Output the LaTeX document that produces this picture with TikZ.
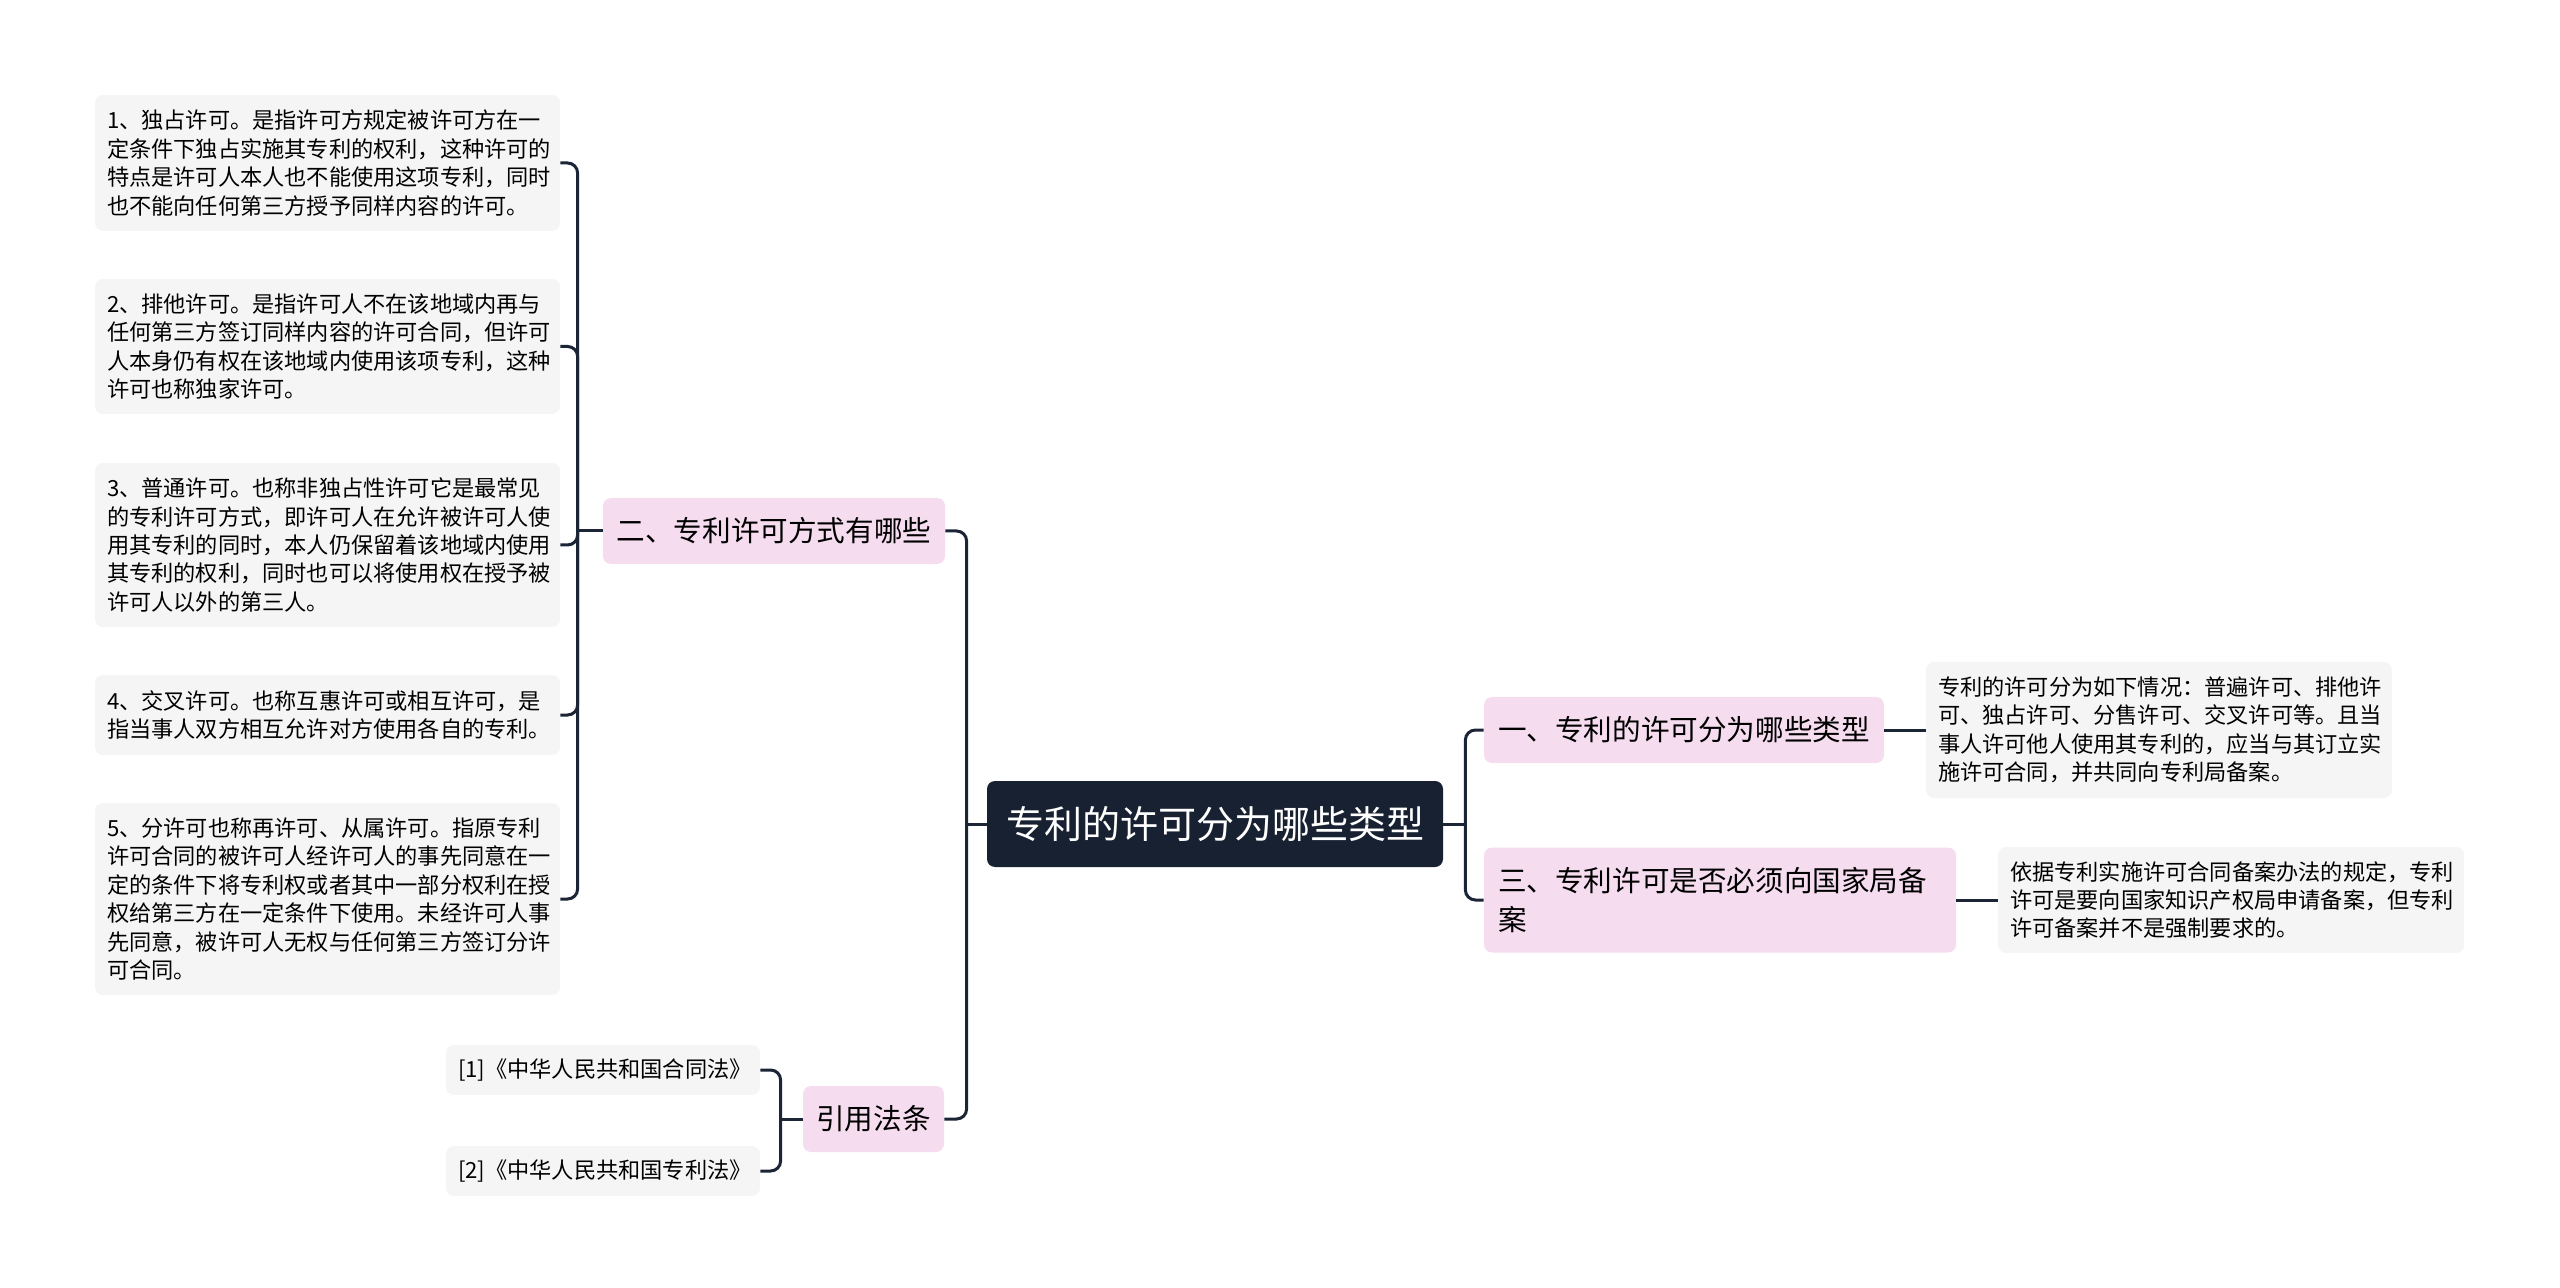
\documentclass[tikz,border=0pt]{standalone}
\usepackage{fontspec}
\newfontfamily\cjk{Noto Sans CJK SC}
\usetikzlibrary{positioning}

\definecolor{rootblue}{HTML}{172131}
\definecolor{topicpink}{HTML}{F5DCEF}
\definecolor{leafgray}{HTML}{F5F5F5}
\definecolor{linkblue}{HTML}{1B2535}

\begin{document}
\begin{tikzpicture}[x=0.5pt, y=-0.5pt,
  rootbox/.style={fill=rootblue, text=white, rounded corners=4pt, inner sep=0pt,
    font=\cjk\fontsize{19}{23}\selectfont, minimum width=228pt, minimum height=43pt},
  topicbox/.style={fill=topicpink, rounded corners=4pt, inner sep=0pt,
    font=\cjk\fontsize{14.3}{19.5}\selectfont, minimum height=33pt},
  leafbox/.style={fill=leafgray, rounded corners=4pt, inner xsep=6pt, inner ysep=0pt,
    align=left, font=\cjk\fontsize{11.1}{14.2}\selectfont},
  link/.style={draw=linkblue, line width=1.5pt, rounded corners=5pt}]

  \useasboundingbox (0,0) rectangle (2560,1288);

  % --- Root ---
  \node[rootbox] (root) at (1215,824) {专利的许可分为哪些类型};

  % --- Topics ---
  \node[topicbox, minimum width=200pt] (t1) at (1684,730) {一、专利的许可分为哪些类型};
  \node[topicbox, minimum height=52.5pt, text width=222pt, inner xsep=7pt, align=left]
    (t3) at (1720,900) {三、专利许可是否必须向国家局备\\案};
  \node[topicbox, minimum width=171pt] (t2) at (774,531) {二、专利许可方式有哪些};
  \node[topicbox, minimum width=70.5pt] (tref) at (873.5,1119) {引用法条};

  % --- Right leaves ---
  \node[leafbox, text width=221pt, minimum height=68pt] (r1) at (2159,730)
    {专利的许可分为如下情况：普遍许可、排他许\\可、独占许可、分售许可、交叉许可等。且当\\事人许可他人使用其专利的，应当与其订立实\\施许可合同，并共同向专利局备案。};
  \node[leafbox, text width=221pt, minimum height=53pt] (r3) at (2231,900)
    {依据专利实施许可合同备案办法的规定，专利\\许可是要向国家知识产权局申请备案，但专利\\许可备案并不是强制要求的。};

  % --- Left leaves ---
  \node[leafbox, text width=220.5pt, minimum height=68pt] (leaf1) at (327.5,163)
    {1、独占许可。是指许可方规定被许可方在一\\定条件下独占实施其专利的权利，这种许可的\\特点是许可人本人也不能使用这项专利，同时\\也不能向任何第三方授予同样内容的许可。};
  \node[leafbox, text width=220.5pt, minimum height=67.5pt] (leaf2) at (327.5,346.5)
    {2、排他许可。是指许可人不在该地域内再与\\任何第三方签订同样内容的许可合同，但许可\\人本身仍有权在该地域内使用该项专利，这种\\许可也称独家许可。};
  \node[leafbox, text width=220.5pt, minimum height=82pt] (leaf3) at (327.5,545)
    {3、普通许可。也称非独占性许可它是最常见\\的专利许可方式，即许可人在允许被许可人使\\用其专利的同时，本人仍保留着该地域内使用\\其专利的权利，同时也可以将使用权在授予被\\许可人以外的第三人。};
  \node[leafbox, text width=220.5pt, minimum height=40pt] (leaf4) at (327.5,715)
    {4、交叉许可。也称互惠许可或相互许可，是\\指当事人双方相互允许对方使用各自的专利。};
  \node[leafbox, text width=220.5pt, minimum height=96pt] (leaf5) at (327.5,899)
    {5、分许可也称再许可、从属许可。指原专利\\许可合同的被许可人经许可人的事先同意在一\\定的条件下将专利权或者其中一部分权利在授\\权给第三方在一定条件下使用。未经许可人事\\先同意，被许可人无权与任何第三方签订分许\\可合同。};

  % --- References ---
  \node[leafbox, text width=145pt, minimum height=25pt] (ref1) at (603,1070)
    {[1]《中华人民共和国合同法》};
  \node[leafbox, text width=145pt, minimum height=25pt] (ref2) at (603,1171)
    {[2]《中华人民共和国专利法》};

  % --- Connectors ---
  \coordinate (lspine) at ([xshift=-10pt]root.west);
  \coordinate (rspine) at ([xshift=11pt]root.east);
  \coordinate (t2spine) at ([xshift=-12.5pt]t2.west);
  \coordinate (refspine) at ([xshift=-11pt]tref.west);

  \draw[link] (root.west) -- (lspine);
  \draw[link] (lspine) |- (t2.east);
  \draw[link] (lspine) |- (tref.east);

  \draw[link] (root.east) -- (rspine);
  \draw[link] (rspine) |- (t1.west);
  \draw[link] (rspine) |- (t3.west);
  \draw[link] (t1.east) -- (r1.west);
  \draw[link] (t3.east) -- (r3.west);

  \draw[link] (t2.west) -- (t2spine);
  \foreach \i in {1,...,5} \draw[link] (t2spine) |- (leaf\i.east);

  \draw[link] (tref.west) -- (refspine);
  \draw[link] (refspine) |- (ref1.east);
  \draw[link] (refspine) |- (ref2.east);

\end{tikzpicture}
\end{document}
